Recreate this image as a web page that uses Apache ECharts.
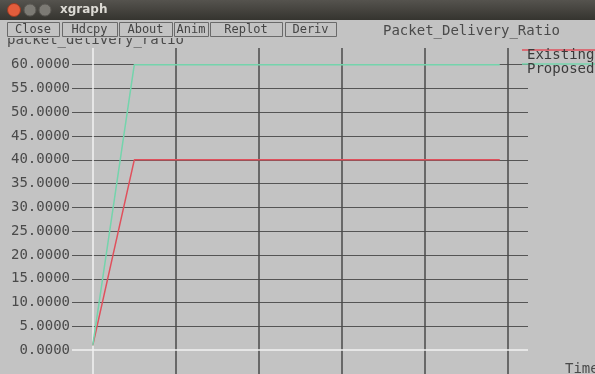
<!DOCTYPE html>
<html>
<head>
<meta charset="utf-8">
<title>xgraph - Packet_Delivery_Ratio</title>
<script src="https://cdn.jsdelivr.net/npm/echarts@6/dist/echarts.min.js"></script>
<style>
  html, body { margin: 0; padding: 0; background: #c3c3c3; }
  #chart { width: 595px; height: 374px; }
</style>
</head>
<body>
<div id="chart"></div>
<script>
// data
const seriesNames = ['Existing', 'Proposed']
const timeValues = [0, 0.5, 4.9]
const existingValues = [1, 40, 40]
const proposedValues = [1, 60, 60]
const xGridTicks = [1, 2, 3, 4, 5]
const yGridTicks = [5, 10, 15, 20, 25, 30, 35, 40, 45, 50, 55, 60]
const buttonLabels = ['Close', 'Hdcpy', 'About', 'Anim', 'Replot', 'Deriv']

const MONO = '"DejaVu Sans Mono", "Liberation Mono", monospace'
const BG = '#c3c3c3'
const GRID_COLOR = '#555555'
const RED = '#e0505c'
const GREEN = '#74d4ac'

const toPoints = (xs, ys) => xs.map((x, i) => [x, ys[i]])

/* button row of the xgraph window */
const buttonBoxes = [[7, 59], [62, 117], [119, 172], [174, 208], [210, 282], [285, 336]]
const buttonGraphics = []
buttonLabels.forEach((label, i) => {
  const [x0, x1] = buttonBoxes[i]
  buttonGraphics.push({
    type: 'rect', z: 20,
    shape: { x: x0 + 0.5, y: 22.5, width: x1 - x0, height: 14 },
    style: { fill: BG, stroke: '#6a6a6a', lineWidth: 1 }
  })
  buttonGraphics.push({
    type: 'text', z: 21,
    x: (x0 + x1) / 2, y: 30,
    style: { text: label, font: '12px ' + MONO, fill: '#444', align: 'center', verticalAlign: 'middle' }
  })
})

const chart = echarts.init(document.getElementById('chart'), null, { renderer: 'canvas' })

chart.setOption({
  backgroundColor: BG,
  animation: false,
  grid: { left: 72, right: 67, top: 48, bottom: -5 },
  xAxis: {
    type: 'value', min: -0.25, max: 5.24,
    axisLine: { show: false }, axisTick: { show: false },
    axisLabel: { show: false }, splitLine: { show: false }
  },
  yAxis: {
    type: 'value', min: -5, max: 63.5, interval: 5,
    axisLine: { show: false }, axisTick: { show: false },
    splitLine: { show: false },
    axisLabel: {
      margin: 2,
      fontFamily: MONO, fontSize: 14, color: '#4a4a4a',
      formatter: v => (v >= 0 && v <= 60 && Math.abs(v % 5) < 1e-9) ? v.toFixed(4) : ''
    }
  },
  series: [
    {
      // helper series: only carries the grid lines
      type: 'line', data: [], z: 1, silent: true,
      markLine: {
        silent: true, symbol: 'none', label: { show: false },
        animation: false,
        data: [
          ...yGridTicks.map(v => ({ yAxis: v, lineStyle: { color: GRID_COLOR, width: 1, type: 'solid' } })),
          ...xGridTicks.map(v => ({ xAxis: v, lineStyle: { color: '#4a4a4a', width: 1.5, type: 'solid' } })),
          { yAxis: 0, lineStyle: { color: '#f2f2f2', width: 1.5, type: 'solid' } },
          { xAxis: 0, lineStyle: { color: '#f2f2f2', width: 1.5, type: 'solid' } }
        ]
      }
    },
    {
      name: seriesNames[0], type: 'line', zlevel: 1, z: 3,
      data: toPoints(timeValues, existingValues),
      symbol: 'none', lineStyle: { color: RED, width: 1.5 }
    },
    {
      name: seriesNames[1], type: 'line', zlevel: 1, z: 4,
      data: toPoints(timeValues, proposedValues),
      symbol: 'none', lineStyle: { color: GREEN, width: 1.5 }
    }
  ],
  graphic: [
    // y axis name, half hidden under the button row
    {
      type: 'text', z: 5, x: 7, y: 33,
      style: { text: 'packet_delivery_ratio', font: '14px ' + MONO, fill: '#4a4a4a' }
    },
    { type: 'rect', z: 10, shape: { x: 0, y: 20, width: 595, height: 18 }, style: { fill: BG } },
    // window title bar
    {
      type: 'rect', z: 30, shape: { x: 0, y: 0, width: 595, height: 20 },
      style: {
        fill: new echarts.graphic.LinearGradient(0, 0, 0, 1, [
          { offset: 0, color: '#55534e' }, { offset: 1, color: '#35342f' }
        ])
      }
    },
    { type: 'circle', z: 31, shape: { cx: 14, cy: 10, r: 6.5 }, style: { fill: '#e35d3c', stroke: '#9a3a22' } },
    { type: 'circle', z: 31, shape: { cx: 30, cy: 10, r: 6 }, style: { fill: '#7c7a74', stroke: '#5a5853' } },
    { type: 'circle', z: 31, shape: { cx: 45, cy: 10, r: 6 }, style: { fill: '#7c7a74', stroke: '#5a5853' } },
    {
      type: 'text', z: 31, x: 60, y: 10,
      style: { text: 'xgraph', font: 'bold 12px "DejaVu Sans", sans-serif', fill: '#dcdad4', verticalAlign: 'middle' }
    },
    ...buttonGraphics,
    // plot title
    {
      type: 'text', z: 21, x: 383, y: 31,
      style: { text: 'Packet_Delivery_Ratio', font: '14px ' + MONO, fill: '#4a4a4a', verticalAlign: 'middle' }
    },
    // legend
    { type: 'line', z: 22, shape: { x1: 522, y1: 50, x2: 595, y2: 50 }, style: { stroke: RED, lineWidth: 1.5 } },
    {
      type: 'text', z: 22, x: 527, y: 55,
      style: { text: seriesNames[0], font: '14px ' + MONO, fill: '#3a3a3a', verticalAlign: 'middle' }
    },
    { type: 'line', z: 22, shape: { x1: 522, y1: 64, x2: 595, y2: 64 }, style: { stroke: GREEN, lineWidth: 1.5 } },
    {
      type: 'text', z: 22, x: 527, y: 69,
      style: { text: seriesNames[1], font: '14px ' + MONO, fill: '#3a3a3a', verticalAlign: 'middle' }
    },
    // x axis name
    {
      type: 'text', z: 22, x: 565, y: 369,
      style: { text: 'Time', font: '14px ' + MONO, fill: '#4a4a4a', verticalAlign: 'middle' }
    }
  ]
})
</script>
</body>
</html>
